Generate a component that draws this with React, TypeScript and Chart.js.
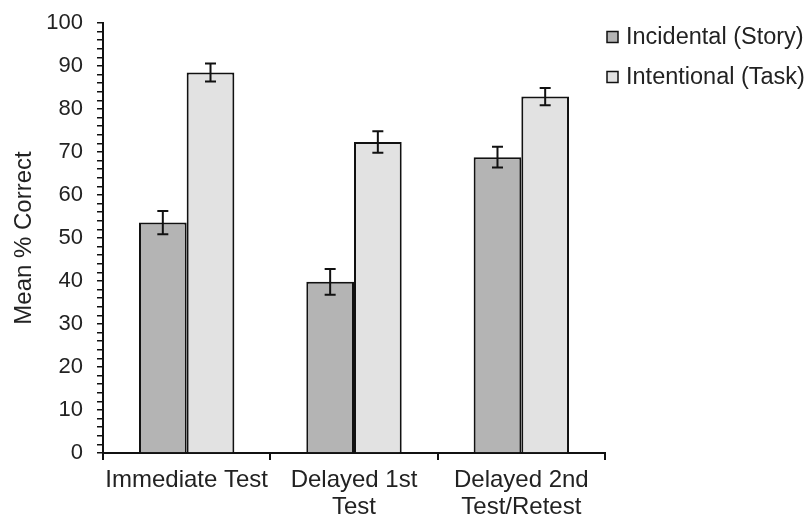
import React, { useEffect, useRef } from "react";
import { Chart, registerables } from "chart.js";

Chart.register(...registerables);

const categories: (string | string[])[] = [
  "Immediate Test",
  ["Delayed 1st", "Test"],
  ["Delayed 2nd", "Test/Retest"],
];
const seriesNames = ["Incidental (Story)", "Intentional (Task)"];
const incidental = [53.6, 39.8, 68.8];
const intentional = [88.5, 72.3, 82.9];
const incidentalErr = [2.7, 3.0, 2.4];
const intentionalErr = [2.1, 2.5, 2.0];
const seriesColors = ["#b4b4b4", "#e2e2e2"];
const yMin = 0;
const yMax = 100;
const yMajorStep = 10;
const yMinorStep = 2;

const FONT = "'Liberation Sans', Arial, sans-serif";

const errorBarPlugin = {
  id: "errorBars",
  afterDatasetsDraw(chart: any) {
    const ctx = chart.ctx;
    const yScale = chart.scales.y;
    const errs = [incidentalErr, intentionalErr];
    ctx.save();
    ctx.strokeStyle = "#111";
    ctx.lineWidth = 2;
    chart.data.datasets.forEach((ds: any, i: number) => {
      const meta = chart.getDatasetMeta(i);
      meta.data.forEach((bar: any, j: number) => {
        const v = ds.data[j];
        const e = errs[i][j];
        const x = bar.x;
        const yt = yScale.getPixelForValue(v + e);
        const yb = yScale.getPixelForValue(v - e);
        const half = 5.5;
        ctx.beginPath();
        ctx.moveTo(x, yt);
        ctx.lineTo(x, yb);
        ctx.moveTo(x - half, yt);
        ctx.lineTo(x + half, yt);
        ctx.moveTo(x - half, yb);
        ctx.lineTo(x + half, yb);
        ctx.stroke();
      });
    });
    ctx.restore();
  },
};

const legendPlugin = {
  id: "customLegend",
  afterDraw(chart: any) {
    const ctx = chart.ctx;
    ctx.save();
    ctx.font = `23.5px ${FONT}`;
    ctx.textBaseline = "middle";
    ctx.textAlign = "left";
    seriesNames.forEach((name, i) => {
      const cy = 37 + i * 40;
      const bx = 607;
      ctx.fillStyle = seriesColors[i];
      ctx.fillRect(bx, cy - 5.5, 11, 11);
      ctx.strokeStyle = "#111";
      ctx.lineWidth = 1.5;
      ctx.strokeRect(bx, cy - 5.5, 11, 11);
      ctx.fillStyle = "#222";
      ctx.fillText(name, 626, cy + 1);
    });
    ctx.restore();
  },
};

export default function App() {
  const ref = useRef<HTMLCanvasElement>(null);

  useEffect(() => {
    document.body.style.margin = "0";
    const canvas = ref.current!;
    const chart = new Chart(canvas, {
      type: "bar",
      data: {
        labels: categories as any,
        datasets: [
          {
            label: seriesNames[0],
            data: incidental,
            backgroundColor: seriesColors[0],
            borderColor: "#111",
            borderWidth: 2,
            categoryPercentage: 0.57,
            barPercentage: 1.0,
          },
          {
            label: seriesNames[1],
            data: intentional,
            backgroundColor: seriesColors[1],
            borderColor: "#111",
            borderWidth: 2,
            categoryPercentage: 0.57,
            barPercentage: 1.0,
          },
        ],
      },
      options: {
        animation: false,
        responsive: false,
        maintainAspectRatio: false,
        layout: { padding: { top: 23, right: 204, left: 0, bottom: 0 } },
        plugins: {
          legend: { display: false },
          tooltip: { enabled: false },
        },
        scales: {
          x: {
            offset: true,
            grid: {
              offset: true,
              drawOnChartArea: false,
              drawTicks: true,
              tickLength: 7,
              color: "#111",
              lineWidth: 2,
            },
            border: { color: "#111", width: 2 },
            ticks: {
              color: "#222",
              font: { family: FONT, size: 24, lineHeight: 1.13 },
              padding: 7,
              maxRotation: 0,
              autoSkip: false,
            },
            afterFit(scale: any) {
              scale.height = 63;
              scale.paddingLeft = 0;
              scale.paddingRight = 0;
            },
          },
          y: {
            min: yMin,
            max: yMax,
            grid: {
              drawOnChartArea: false,
              tickLength: 6,
              color: "#111",
              lineWidth: 1.5,
            },
            border: { color: "#111", width: 2 },
            ticks: {
              stepSize: yMinorStep,
              autoSkip: false,
              color: "#222",
              padding: 14,
              font: { family: FONT, size: 22 },
              callback: (v: any) => (Number(v) % yMajorStep === 0 ? String(v) : ""),
            },
            title: {
              display: true,
              text: "Mean % Correct",
              color: "#222",
              font: { family: FONT, size: 24 },
              padding: { top: 10, bottom: 0 },
            },
            afterFit(scale: any) {
              scale.width = 103;
              scale.paddingTop = 0;
              scale.paddingBottom = 0;
            },
          },
        },
      },
      plugins: [errorBarPlugin, legendPlugin],
    });
    return () => chart.destroy();
  }, []);

  return (
    <div style={{ width: 809, height: 516, background: "#fff" }}>
      <canvas ref={ref} width={809} height={516} />
    </div>
  );
}
